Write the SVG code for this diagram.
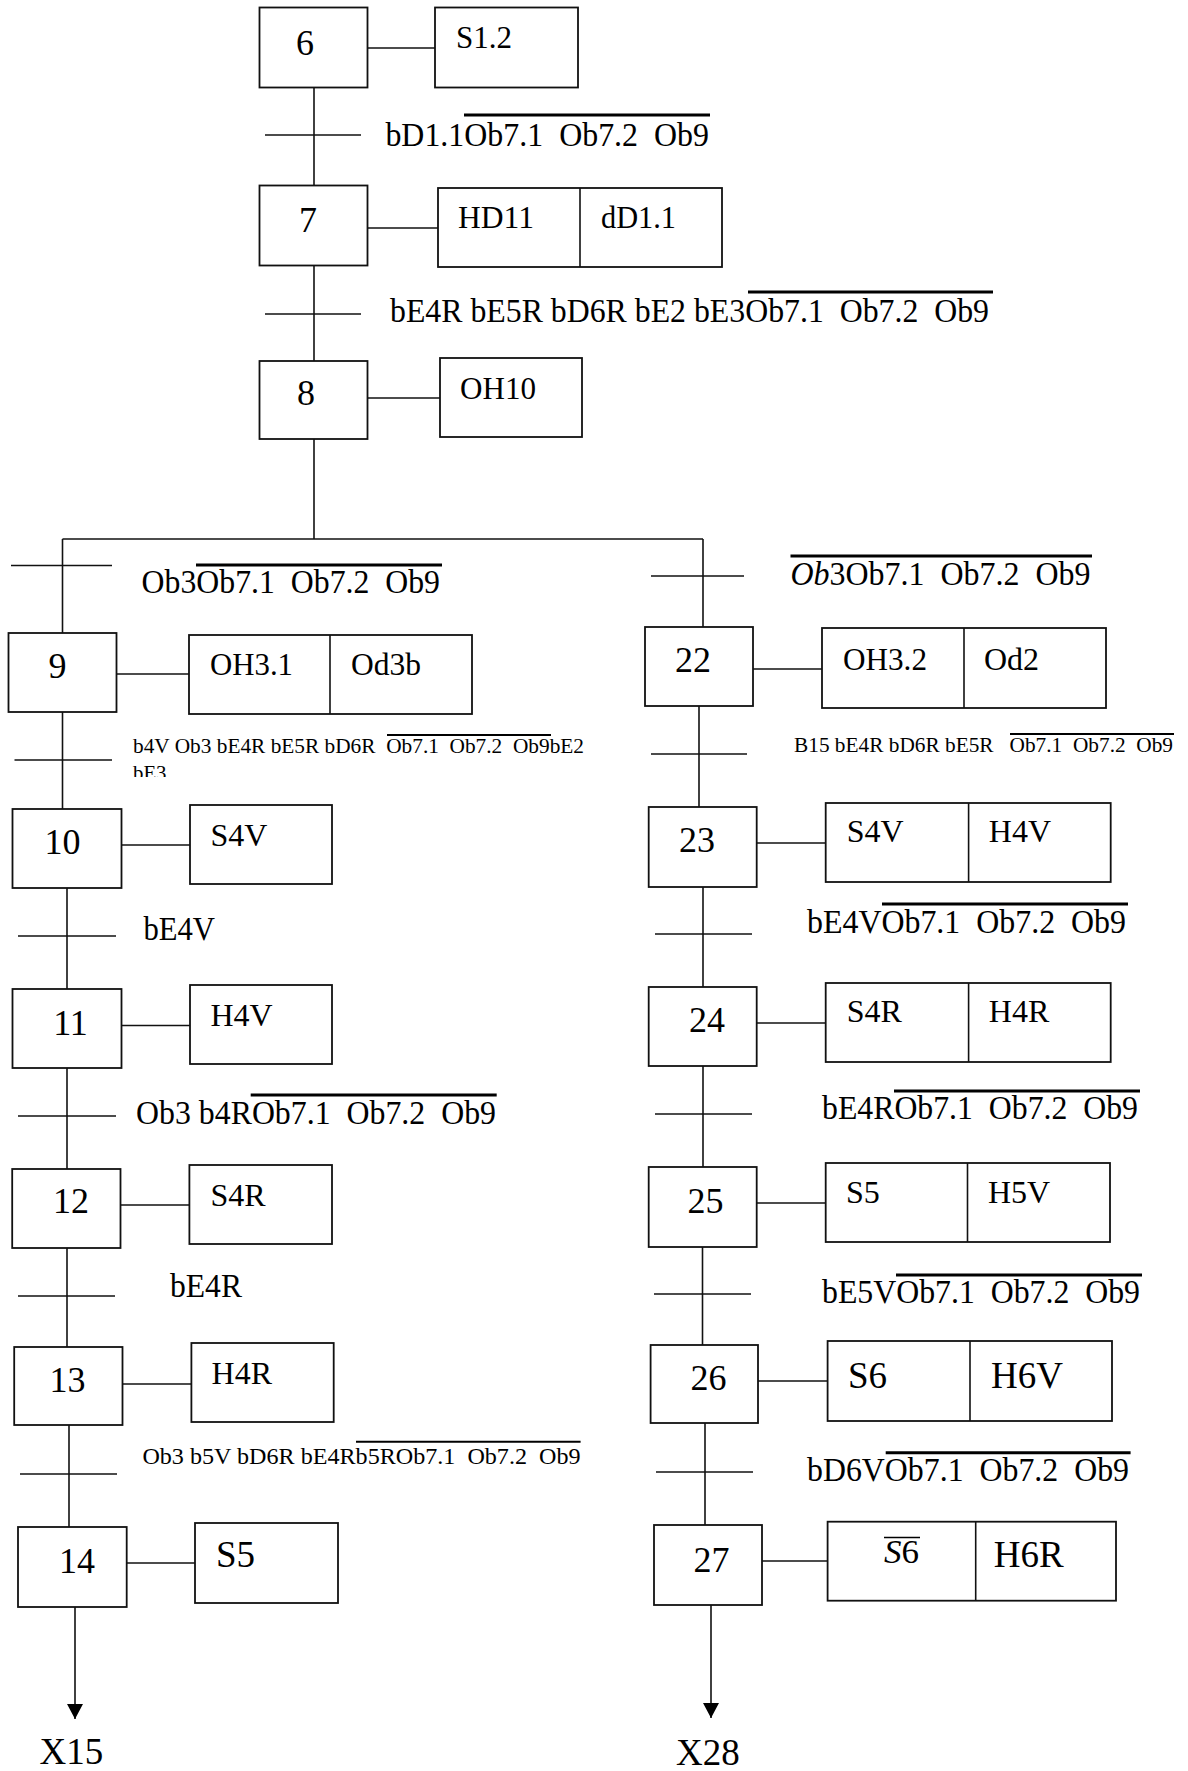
<svg xmlns="http://www.w3.org/2000/svg" width="1188" height="1771" viewBox="0 0 1188 1771" xml:space="preserve">
<style>
  .box { fill: #fff; stroke: #111; stroke-width: 1.8; }
  .ln { stroke: #111; stroke-width: 1.6; fill: none; }
  .ol { stroke: #000; stroke-width: 3; }
  .ols { stroke: #000; stroke-width: 2; }
  text { font-family: "Liberation Serif", "Times New Roman", serif; fill: #000; white-space: pre; }
  .num { font-size: 36px; text-anchor: middle; }
  .act { font-size: 32px; }
  .big { font-size: 37px; }
  .lbl { font-size: 34px; }
</style>
<defs>
  <marker id="arr" markerUnits="userSpaceOnUse" markerWidth="16" markerHeight="16" refX="15" refY="8" orient="auto">
    <path d="M0,0 L15,8 L0,16 z" fill="#000"/>
  </marker>
  <clipPath id="clipBE3" clipPathUnits="userSpaceOnUse">
    <rect x="0" y="700" width="600" height="77"/>
  </clipPath>
</defs>
<rect width="1188" height="1771" fill="#fff"/>

<g id="connectors">
  <line class="ln" x1="314" y1="87.5" x2="314" y2="185.5"/>
  <line class="ln" x1="314" y1="265.5" x2="314" y2="361"/>
  <line class="ln" x1="314" y1="439" x2="314" y2="539"/>
  <line class="ln" x1="62.5" y1="539" x2="703" y2="539"/>
  <line class="ln" x1="62.5" y1="539" x2="62.5" y2="633"/>
  <line class="ln" x1="703" y1="539" x2="703" y2="627"/>
  <line class="ln" x1="62.5" y1="712" x2="62.5" y2="809"/>
  <line class="ln" x1="67" y1="888" x2="67" y2="989"/>
  <line class="ln" x1="67" y1="1068" x2="67" y2="1169"/>
  <line class="ln" x1="67" y1="1248" x2="67" y2="1347"/>
  <line class="ln" x1="69" y1="1425" x2="69" y2="1527"/>
  <line class="ln" x1="75" y1="1607" x2="75" y2="1719" marker-end="url(#arr)"/>
  <line class="ln" x1="699" y1="706" x2="699" y2="807"/>
  <line class="ln" x1="703" y1="887" x2="703" y2="987"/>
  <line class="ln" x1="703" y1="1066" x2="703" y2="1167"/>
  <line class="ln" x1="702.5" y1="1247" x2="702.5" y2="1345"/>
  <line class="ln" x1="705" y1="1423" x2="705" y2="1525"/>
  <line class="ln" x1="711" y1="1605" x2="711" y2="1718" marker-end="url(#arr)"/>
  <line class="ln" x1="265" y1="135" x2="361" y2="135"/>
  <line class="ln" x1="265" y1="314" x2="361" y2="314"/>
  <line class="ln" x1="11" y1="565.5" x2="112" y2="565.5"/>
  <line class="ln" x1="651" y1="576" x2="744" y2="576"/>
  <line class="ln" x1="14.5" y1="760" x2="112" y2="760"/>
  <line class="ln" x1="18" y1="936" x2="116" y2="936"/>
  <line class="ln" x1="18" y1="1116" x2="116" y2="1116"/>
  <line class="ln" x1="18" y1="1296" x2="115" y2="1296"/>
  <line class="ln" x1="20" y1="1474" x2="117" y2="1474"/>
  <line class="ln" x1="651" y1="754" x2="747" y2="754"/>
  <line class="ln" x1="655" y1="934" x2="752" y2="934"/>
  <line class="ln" x1="655" y1="1114" x2="752" y2="1114"/>
  <line class="ln" x1="654" y1="1294" x2="751" y2="1294"/>
  <line class="ln" x1="656" y1="1472" x2="753" y2="1472"/>
  <line class="ln" x1="367.5" y1="48" x2="435" y2="48"/>
  <line class="ln" x1="367.5" y1="228" x2="438" y2="228"/>
  <line class="ln" x1="367.5" y1="398" x2="440" y2="398"/>
  <line class="ln" x1="116.5" y1="674" x2="189" y2="674"/>
  <line class="ln" x1="121.5" y1="845" x2="190" y2="845"/>
  <line class="ln" x1="121.5" y1="1025.5" x2="190" y2="1025.5"/>
  <line class="ln" x1="120.5" y1="1205" x2="189.4" y2="1205"/>
  <line class="ln" x1="122.5" y1="1384" x2="191.4" y2="1384"/>
  <line class="ln" x1="126.7" y1="1563" x2="195" y2="1563"/>
  <line class="ln" x1="753" y1="669" x2="822" y2="669"/>
  <line class="ln" x1="756.7" y1="843" x2="825.7" y2="843"/>
  <line class="ln" x1="756.7" y1="1023" x2="825.7" y2="1023"/>
  <line class="ln" x1="756.7" y1="1203" x2="825.7" y2="1203"/>
  <line class="ln" x1="758" y1="1381" x2="827.6" y2="1381"/>
  <line class="ln" x1="762" y1="1561" x2="827.6" y2="1561"/>
</g>

<g id="step6">
  <rect class="box" x="259.5" y="7.5" width="108" height="80"/>
  <text class="num" x="305" y="55">6</text>
  <rect class="box" x="435" y="7.5" width="143" height="80"/>
  <text class="act" x="456" y="48" textLength="56" lengthAdjust="spacingAndGlyphs">S1.2</text>
</g>
<g id="step7">
  <rect class="box" x="259.5" y="185.5" width="108" height="80"/>
  <text class="num" x="308" y="232">7</text>
  <rect class="box" x="438" y="188" width="284" height="79"/>
  <line class="ln" x1="580" y1="188" x2="580" y2="267"/>
  <text class="act" x="458" y="228" textLength="76" lengthAdjust="spacingAndGlyphs">HD11</text>
  <text class="act" x="601" y="228" textLength="75" lengthAdjust="spacingAndGlyphs">dD1.1</text>
</g>
<g id="step8">
  <rect class="box" x="259.5" y="361" width="108" height="78"/>
  <text class="num" x="306" y="405">8</text>
  <rect class="box" x="440" y="358" width="142" height="79"/>
  <text class="act" x="460" y="399" textLength="76" lengthAdjust="spacingAndGlyphs">OH10</text>
</g>
<g id="step9">
  <rect class="box" x="8.5" y="633" width="108" height="79"/>
  <text class="num" x="57.5" y="678">9</text>
  <rect class="box" x="189" y="635" width="283" height="79"/>
  <line class="ln" x1="330" y1="635" x2="330" y2="714"/>
  <text class="act" x="210" y="675" textLength="83" lengthAdjust="spacingAndGlyphs">OH3.1</text>
  <text class="act" x="351" y="675" textLength="70" lengthAdjust="spacingAndGlyphs">Od3b</text>
</g>
<g id="step10">
  <rect class="box" x="12.5" y="809" width="109" height="79"/>
  <text class="num" x="62.5" y="854">10</text>
  <rect class="box" x="190" y="805" width="142" height="79"/>
  <text class="act" x="210.5" y="846">S4V</text>
</g>
<g id="step11">
  <rect class="box" x="12.5" y="989" width="109" height="79"/>
  <text class="num" x="70.5" y="1035">11</text>
  <rect class="box" x="190" y="985" width="142" height="79"/>
  <text class="act" x="210.5" y="1026">H4V</text>
</g>
<g id="step12">
  <rect class="box" x="12.2" y="1169" width="108.3" height="79"/>
  <text class="num" x="71" y="1213">12</text>
  <rect class="box" x="189.4" y="1165" width="142.6" height="79"/>
  <text class="act" x="210.5" y="1205.5">S4R</text>
</g>
<g id="step13">
  <rect class="box" x="14.2" y="1347" width="108.3" height="78"/>
  <text class="num" x="67.5" y="1392">13</text>
  <rect class="box" x="191.4" y="1343" width="142.3" height="79"/>
  <text class="act" x="211.6" y="1384">H4R</text>
</g>
<g id="step14">
  <rect class="box" x="18" y="1527" width="108.7" height="80"/>
  <text class="num" x="77" y="1573">14</text>
  <rect class="box" x="195" y="1523" width="143" height="80"/>
  <text class="big" x="216" y="1567">S5</text>
</g>
<g id="X15">
  <text class="big" x="71.3" y="1764" text-anchor="middle">X15</text>
</g>

<g id="step22">
  <rect class="box" x="645" y="627" width="108" height="79"/>
  <text class="num" x="693" y="672">22</text>
  <rect class="box" x="822" y="628" width="284" height="80"/>
  <line class="ln" x1="964" y1="628" x2="964" y2="708"/>
  <text class="act" x="843" y="670" textLength="84" lengthAdjust="spacingAndGlyphs">OH3.2</text>
  <text class="act" x="984" y="670">Od2</text>
</g>
<g id="step23">
  <rect class="box" x="648.7" y="807" width="108" height="80"/>
  <text class="num" x="697" y="852">23</text>
  <rect class="box" x="825.7" y="803" width="285" height="79"/>
  <line class="ln" x1="968.6" y1="803" x2="968.6" y2="882"/>
  <text class="act" x="846.7" y="842">S4V</text>
  <text class="act" x="988.8" y="842">H4V</text>
</g>
<g id="step24">
  <rect class="box" x="648.7" y="987" width="108" height="79"/>
  <text class="num" x="707" y="1032">24</text>
  <rect class="box" x="825.7" y="983" width="285" height="79"/>
  <line class="ln" x1="968.6" y1="983" x2="968.6" y2="1062"/>
  <text class="act" x="846.7" y="1022">S4R</text>
  <text class="act" x="988.8" y="1022">H4R</text>
</g>
<g id="step25">
  <rect class="box" x="648.7" y="1167" width="108" height="80"/>
  <text class="num" x="705.5" y="1213">25</text>
  <rect class="box" x="825.7" y="1163" width="284.3" height="79"/>
  <line class="ln" x1="967.5" y1="1163" x2="967.5" y2="1242"/>
  <text class="act" x="846" y="1203">S5</text>
  <text class="act" x="988" y="1203">H5V</text>
</g>
<g id="step26">
  <rect class="box" x="650.6" y="1345" width="107.4" height="78"/>
  <text class="num" x="708.5" y="1390">26</text>
  <rect class="box" x="827.6" y="1341" width="284.4" height="80"/>
  <line class="ln" x1="970" y1="1341" x2="970" y2="1421"/>
  <text class="big" x="848" y="1388">S6</text>
  <text class="big" x="991" y="1388">H6V</text>
</g>
<g id="step27">
  <rect class="box" x="654" y="1525" width="108" height="80"/>
  <text class="num" x="711.5" y="1572">27</text>
  <rect class="box" x="827.6" y="1521.7" width="288.4" height="79"/>
  <line class="ln" x1="975.7" y1="1521.7" x2="975.7" y2="1600.7"/>
  <text x="884" y="1563" font-size="34" textLength="35" lengthAdjust="spacingAndGlyphs"><tspan font-style="italic">S</tspan>6</text>
  <line x1="884" y1="1537.5" x2="920" y2="1537.5" stroke="#000" stroke-width="1.6"/>
  <text class="big" x="993.7" y="1567">H6R</text>
</g>
<g id="X28">
  <text class="big" x="707.8" y="1765" text-anchor="middle">X28</text>
</g>

<g id="transition-labels">
  <text class="lbl" x="385.4" y="146" textLength="323.6" lengthAdjust="spacingAndGlyphs" xml:space="preserve">bD1.1Ob7.1  Ob7.2  Ob9</text>
  <line class="ol" x1="464" y1="115" x2="710" y2="115"/>

  <text class="lbl" x="390" y="322" textLength="599" lengthAdjust="spacingAndGlyphs" xml:space="preserve">bE4R bE5R bD6R bE2 bE3Ob7.1  Ob7.2  Ob9</text>
  <line class="ol" x1="748" y1="292" x2="993" y2="292"/>

  <text class="lbl" x="141.6" y="593" textLength="298.4" lengthAdjust="spacingAndGlyphs" xml:space="preserve">Ob3Ob7.1  Ob7.2  Ob9</text>
  <line class="ol" x1="196" y1="565" x2="442" y2="565"/>

  <text x="133" y="753" font-size="20" textLength="451" lengthAdjust="spacingAndGlyphs" xml:space="preserve">b4V Ob3 bE4R bE5R bD6R  Ob7.1  Ob7.2  Ob9bE2</text>
  <line class="ols" x1="387" y1="735" x2="551" y2="735"/>
  <text x="133" y="780" font-size="20" textLength="33.5" lengthAdjust="spacingAndGlyphs" clip-path="url(#clipBE3)">bE3</text>

  <text class="lbl" x="143.5" y="939.5" textLength="71.5" lengthAdjust="spacingAndGlyphs">bE4V</text>

  <text class="lbl" x="136" y="1123.5" textLength="360" lengthAdjust="spacingAndGlyphs" xml:space="preserve">Ob3 b4ROb7.1  Ob7.2  Ob9</text>
  <line class="ol" x1="250.7" y1="1095" x2="496.7" y2="1095"/>

  <text class="lbl" x="170" y="1297" textLength="72" lengthAdjust="spacingAndGlyphs">bE4R</text>

  <text x="142.4" y="1463.5" font-size="23" textLength="438.2" lengthAdjust="spacingAndGlyphs" xml:space="preserve">Ob3 b5V bD6R bE4Rb5ROb7.1  Ob7.2  Ob9</text>
  <line class="ols" x1="356" y1="1441.7" x2="580.6" y2="1441.7"/>

  <text class="lbl" x="790.5" y="585" textLength="300" lengthAdjust="spacingAndGlyphs" xml:space="preserve"><tspan font-style="italic">Ob</tspan>3Ob7.1  Ob7.2  Ob9</text>
  <line class="ol" x1="790.5" y1="556" x2="1092" y2="556"/>

  <text x="794" y="752" font-size="21" textLength="379" lengthAdjust="spacingAndGlyphs" xml:space="preserve">B15 bE4R bD6R bE5R   Ob7.1  Ob7.2  Ob9</text>
  <line class="ols" x1="1010" y1="734" x2="1174" y2="734"/>

  <text class="lbl" x="807" y="933" textLength="319" lengthAdjust="spacingAndGlyphs" xml:space="preserve">bE4VOb7.1  Ob7.2  Ob9</text>
  <line class="ol" x1="882" y1="904" x2="1128" y2="904"/>

  <text class="lbl" x="822" y="1119" textLength="316" lengthAdjust="spacingAndGlyphs" xml:space="preserve">bE4ROb7.1  Ob7.2  Ob9</text>
  <line class="ol" x1="894" y1="1091" x2="1140" y2="1091"/>

  <text class="lbl" x="822" y="1303" textLength="318" lengthAdjust="spacingAndGlyphs" xml:space="preserve">bE5VOb7.1  Ob7.2  Ob9</text>
  <line class="ol" x1="896" y1="1275" x2="1142" y2="1275"/>

  <text class="lbl" x="807" y="1481" textLength="322" lengthAdjust="spacingAndGlyphs" xml:space="preserve">bD6VOb7.1  Ob7.2  Ob9</text>
  <line class="ol" x1="885.7" y1="1452.7" x2="1130.6" y2="1452.7"/>
</g>
</svg>
